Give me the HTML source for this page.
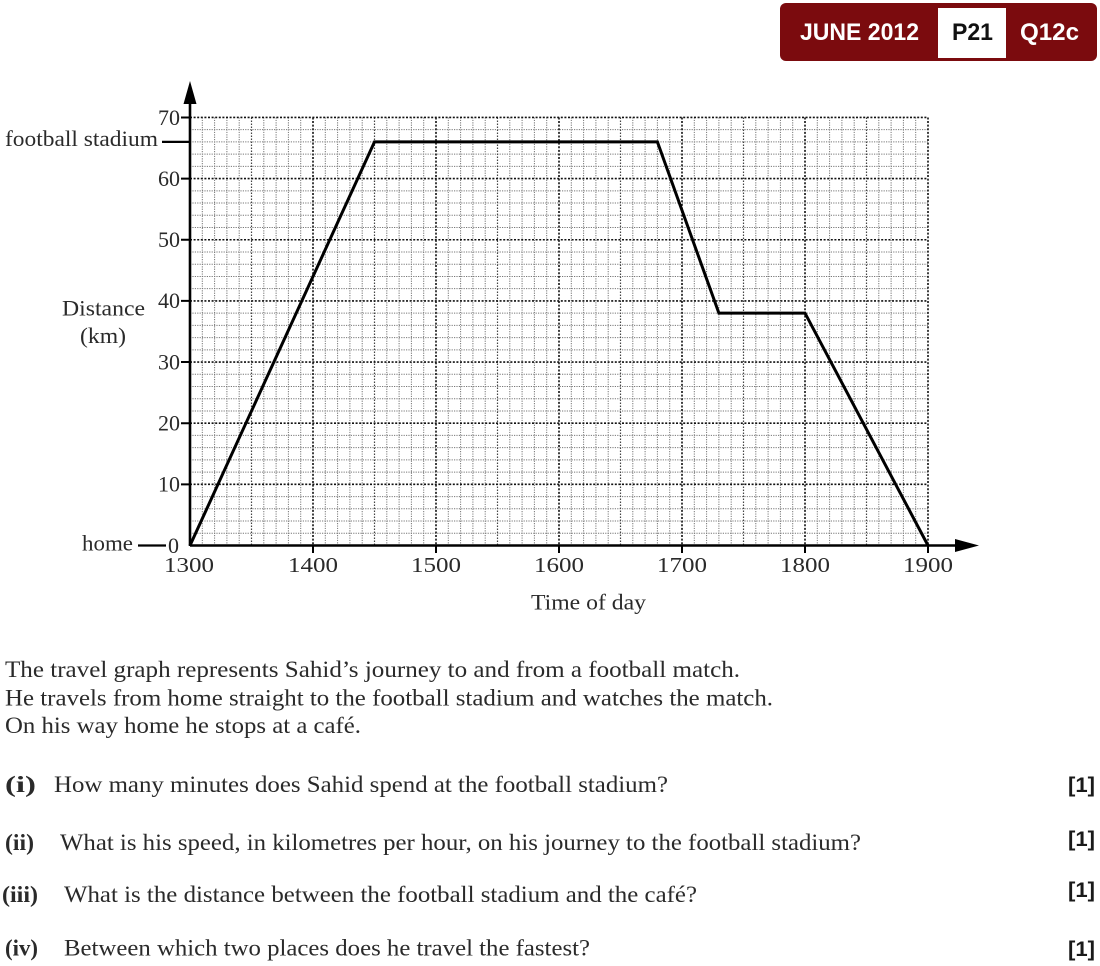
<!DOCTYPE html>
<html>
<head>
<meta charset="utf-8">
<style>
  html,body{margin:0;padding:0;background:#fff;}
  svg{display:block;}
  .serif{font-family:"Liberation Serif","DejaVu Serif",serif;fill:#2a2a2a;}
  .sans{font-family:"Liberation Sans","DejaVu Sans",sans-serif;}
</style>
</head>
<body>
<svg width="1100" height="966" viewBox="0 0 1100 966" xmlns="http://www.w3.org/2000/svg">
  <rect width="1100" height="966" fill="#fff"/>

  <!-- Banner -->
  <rect x="780" y="3" width="317" height="58" rx="6" ry="6" fill="#7b0b0e"/>
  <rect x="938" y="8" width="68" height="50" fill="#fff"/>
  <text class="sans" x="800" y="40" font-size="24" font-weight="bold" fill="#fff" textLength="119" lengthAdjust="spacingAndGlyphs">JUNE 2012</text>
  <text class="sans" x="952" y="40" font-size="24" font-weight="bold" fill="#111" textLength="41" lengthAdjust="spacingAndGlyphs">P21</text>
  <text class="sans" x="1020" y="40" font-size="24" font-weight="bold" fill="#fff" textLength="59" lengthAdjust="spacingAndGlyphs">Q12c</text>

  <!-- Grid: minor verticals -->
  <path fill="none" stroke="#777" stroke-width="1" stroke-dasharray="1.2 1.2"
    d="M202.3 117.45V545.5M214.6 117.45V545.5M226.9 117.45V545.5M239.2 117.45V545.5
       M263.8 117.45V545.5M276.1 117.45V545.5M288.4 117.45V545.5M300.7 117.45V545.5
       M325.3 117.45V545.5M337.6 117.45V545.5M349.9 117.45V545.5M362.2 117.45V545.5
       M386.8 117.45V545.5M399.1 117.45V545.5M411.4 117.45V545.5M423.7 117.45V545.5
       M448.3 117.45V545.5M460.6 117.45V545.5M472.9 117.45V545.5M485.2 117.45V545.5
       M509.8 117.45V545.5M522.1 117.45V545.5M534.4 117.45V545.5M546.7 117.45V545.5
       M571.3 117.45V545.5M583.6 117.45V545.5M595.9 117.45V545.5M608.2 117.45V545.5
       M632.8 117.45V545.5M645.1 117.45V545.5M657.4 117.45V545.5M669.7 117.45V545.5
       M694.3 117.45V545.5M706.6 117.45V545.5M718.9 117.45V545.5M731.2 117.45V545.5
       M755.8 117.45V545.5M768.1 117.45V545.5M780.4 117.45V545.5M792.7 117.45V545.5
       M817.3 117.45V545.5M829.6 117.45V545.5M841.9 117.45V545.5M854.2 117.45V545.5
       M878.8 117.45V545.5M891.1 117.45V545.5M903.4 117.45V545.5M915.7 117.45V545.5"/>
  <!-- Grid: minor horizontals -->
  <path fill="none" stroke="#777" stroke-width="1" stroke-dasharray="1.2 1.2"
    d="M190 533.27H928M190 521.04H928M190 508.81H928M190 496.58H928
       M190 472.12H928M190 459.89H928M190 447.66H928M190 435.43H928
       M190 410.97H928M190 398.74H928M190 386.51H928M190 374.28H928
       M190 349.82H928M190 337.59H928M190 325.36H928M190 313.13H928
       M190 288.67H928M190 276.44H928M190 264.21H928M190 251.98H928
       M190 227.52H928M190 215.29H928M190 203.06H928M190 190.83H928
       M190 166.37H928M190 154.14H928M190 141.91H928M190 129.68H928"/>
  <!-- Grid: half-hour verticals -->
  <path fill="none" stroke="#444" stroke-width="1.2" stroke-dasharray="1.5 1.5"
    d="M251.5 117.45V545.5M374.5 117.45V545.5M497.5 117.45V545.5M620.5 117.45V545.5M743.5 117.45V545.5M866.5 117.45V545.5"/>
  <!-- Grid: major -->
  <path fill="none" stroke="#111" stroke-width="1.6" stroke-dasharray="2 1.6"
    d="M313 117.45V545.5M436 117.45V545.5M559 117.45V545.5M682 117.45V545.5M805 117.45V545.5M928 117.45V545.5
       M190 484.35H928M190 423.2H928M190 362.05H928M190 300.9H928M190 239.75H928M190 178.6H928M190 117.45H928"/>

  <!-- Axes -->
  <line x1="190" y1="546" x2="190" y2="100" stroke="#000" stroke-width="2.6"/>
  <polygon points="190,81 183.5,104 196.5,104" fill="#000"/>
  <line x1="190" y1="545.5" x2="958" y2="545.5" stroke="#000" stroke-width="2.6"/>
  <polygon points="979,545.5 955,539 955,552" fill="#000"/>

  <!-- y ticks -->
  <path stroke="#000" stroke-width="2" fill="none"
    d="M181 117.45H190M181 178.6H190M181 239.75H190M181 300.9H190M181 362.05H190M181 423.2H190M181 484.35H190"/>
  <!-- x ticks -->
  <path stroke="#000" stroke-width="2" fill="none"
    d="M313 545.5V553M436 545.5V553M559 545.5V553M682 545.5V553M805 545.5V553M928 545.5V553"/>

  <!-- y labels -->
  <g class="serif" font-size="22" text-anchor="end">
    <text x="180" y="125">70</text>
    <text x="180" y="186">60</text>
    <text x="180" y="247">50</text>
    <text x="180" y="308">40</text>
    <text x="180" y="369.5">30</text>
    <text x="180" y="430.5">20</text>
    <text x="180" y="491.5">10</text>
    <text x="179" y="553">0</text>
  </g>
  <text class="serif" x="5" y="146" font-size="22" textLength="153" lengthAdjust="spacingAndGlyphs">football stadium</text>
  <line x1="162" y1="141.9" x2="190" y2="141.9" stroke="#000" stroke-width="2.2"/>
  <text class="serif" x="82" y="550.5" font-size="22" textLength="51" lengthAdjust="spacingAndGlyphs">home</text>
  <line x1="138" y1="545.5" x2="166" y2="545.5" stroke="#000" stroke-width="2.2"/>
  <text class="serif" x="62" y="315.5" font-size="22" textLength="83" lengthAdjust="spacingAndGlyphs">Distance</text>
  <text class="serif" x="80" y="343" font-size="22" textLength="46" lengthAdjust="spacingAndGlyphs">(km)</text>

  <!-- x labels -->
  <g class="serif" font-size="21.5">
    <text x="164" y="572" textLength="50" lengthAdjust="spacingAndGlyphs">1300</text>
    <text x="288" y="572" textLength="50" lengthAdjust="spacingAndGlyphs">1400</text>
    <text x="411" y="572" textLength="50" lengthAdjust="spacingAndGlyphs">1500</text>
    <text x="534" y="572" textLength="50" lengthAdjust="spacingAndGlyphs">1600</text>
    <text x="657" y="572" textLength="50" lengthAdjust="spacingAndGlyphs">1700</text>
    <text x="780" y="572" textLength="50" lengthAdjust="spacingAndGlyphs">1800</text>
    <text x="903" y="572" textLength="50" lengthAdjust="spacingAndGlyphs">1900</text>
  </g>
  <text class="serif" x="531" y="609.5" font-size="22" textLength="115" lengthAdjust="spacingAndGlyphs">Time of day</text>

  <!-- Travel graph -->
  <polyline fill="none" stroke="#000" stroke-width="3" stroke-linejoin="miter"
    points="190,545.5 374.5,141.9 657.4,141.9 718.9,313.1 805,313.1 928,545.5"/>

  <!-- Question text -->
  <g class="serif" font-size="23" fill="#1e1e1e">
    <text x="5" y="677" textLength="735" lengthAdjust="spacingAndGlyphs">The travel graph represents Sahid’s journey to and from a football match.</text>
    <text x="5" y="705.5" textLength="768" lengthAdjust="spacingAndGlyphs">He travels from home straight to the football stadium and watches the match.</text>
    <text x="5" y="733" textLength="356" lengthAdjust="spacingAndGlyphs">On his way home he stops at a café.</text>

    <text x="5" y="792" font-weight="bold" textLength="31" lengthAdjust="spacingAndGlyphs">(i)</text>
    <text x="54" y="792" textLength="614" lengthAdjust="spacingAndGlyphs">How many minutes does Sahid spend at the football stadium?</text>

    <text x="5" y="850" font-weight="bold" textLength="29" lengthAdjust="spacingAndGlyphs">(ii)</text>
    <text x="60" y="850" textLength="801" lengthAdjust="spacingAndGlyphs">What is his speed, in kilometres per hour, on his journey to the football stadium?</text>

    <text x="2" y="902" font-weight="bold" textLength="36" lengthAdjust="spacingAndGlyphs">(iii)</text>
    <text x="64" y="902" textLength="633" lengthAdjust="spacingAndGlyphs">What is the distance between the football stadium and the café?</text>

    <text x="5" y="955.5" font-weight="bold" textLength="33" lengthAdjust="spacingAndGlyphs">(iv)</text>
    <text x="64" y="955.5" textLength="526" lengthAdjust="spacingAndGlyphs">Between which two places does he travel the fastest?</text>
  </g>

  <!-- Marks -->
  <g class="sans" font-size="21" font-weight="bold" fill="#1a1a1a">
    <text x="1068" y="792" textLength="27" lengthAdjust="spacingAndGlyphs">[1]</text>
    <text x="1068" y="846" textLength="27" lengthAdjust="spacingAndGlyphs">[1]</text>
    <text x="1068" y="897" textLength="27" lengthAdjust="spacingAndGlyphs">[1]</text>
    <text x="1068" y="956" textLength="27" lengthAdjust="spacingAndGlyphs">[1]</text>
  </g>
</svg>
</body>
</html>
